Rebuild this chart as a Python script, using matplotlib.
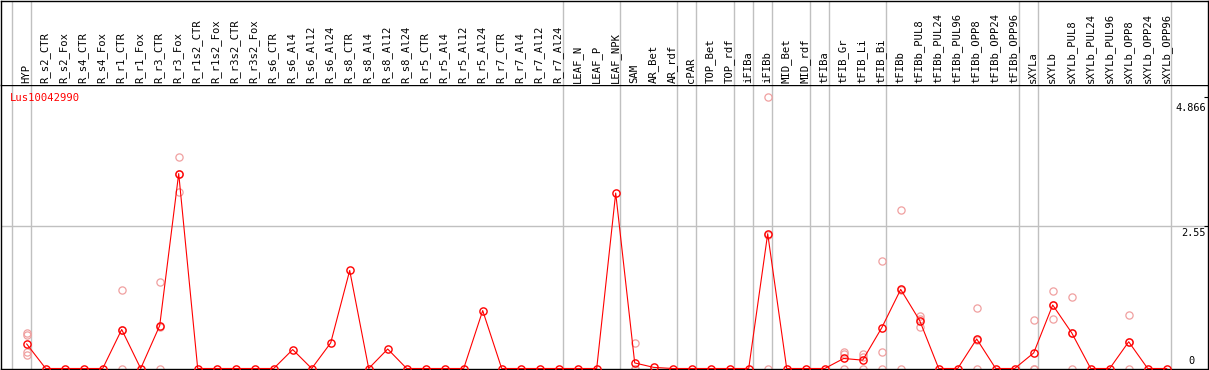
import numpy as np
import matplotlib
matplotlib.use("Agg")
import matplotlib.pyplot as plt

plt.rcParams['font.family'] = ['DejaVu Sans Mono', 'DejaVu Sans']

# Données
samples = [
    "HYP", "R_s2_CTR", "R_s2_Fox", "R_s4_CTR", "R_s4_Fox", "R_r1_CTR", "R_r1_Fox",
    "R_r3_CTR", "R_r3_Fox", "R_r1s2_CTR", "R_r1s2_Fox", "R_r3s2_CTR", "R_r3s2_Fox",
    "R_s6_CTR", "R_s6_Al4", "R_s6_Al12", "R_s6_Al24", "R_s8_CTR", "R_s8_Al4",
    "R_s8_Al12", "R_s8_Al24", "R_r5_CTR", "R_r5_Al4", "R_r5_Al12", "R_r5_Al24",
    "R_r7_CTR", "R_r7_Al4", "R_r7_Al12", "R_r7_Al24", "LEAF_N", "LEAF_P", "LEAF_NPK",
    "SAM", "AR_Bet", "AR_rdf", "cPAR", "TOP_Bet", "TOP_rdf", "iFIBa", "iFIBb",
    "MID_Bet", "MID_rdf", "tFIBa", "tFIB_Gr", "tFIB_Li", "tFIB_Bi", "tFIBb",
    "tFIBb_PUL8", "tFIBb_PUL24", "tFIBb_PUL96", "tFIBb_OPP8", "tFIBb_OPP24",
    "tFIBb_OPP96", "sXYLa", "sXYLb", "sXYLb_PUL8", "sXYLb_PUL24", "sXYLb_PUL96",
    "sXYLb_OPP8", "sXYLb_OPP24", "sXYLb_OPP96",
]

# moyenne (ligne rouge)
mean_vals = [
    0.44, 0, 0, 0, 0, 0.70, 0, 0.77, 3.50, 0, 0, 0, 0,
    0, 0.34, 0, 0.46, 1.76, 0, 0.35, 0, 0, 0, 0, 1.04,
    0, 0, 0, 0, 0, 0, 3.15,
    0.10, 0.02, 0, 0, 0, 0, 0, 2.42,
    0, 0, 0, 0.18, 0.15, 0.73, 1.42,
    0.86, 0, 0, 0.53, 0, 0,
    0.28, 1.14, 0.64, 0, 0, 0.48, 0, 0,
]

# réplicats visibles (points roses) : indice -> valeurs
replicates = {
    0: [0.63, 0.60, 0.29, 0.25],
    5: [1.41, 0.69, 0],
    7: [1.56, 0.75, 0],
    8: [3.80, 3.50, 3.17],
    32: [0.45, 0, 0],
    39: [4.866, 2.40, 0],
    43: [0.30, 0.26, 0],
    44: [0.26, 0.21, 0],
    45: [1.93, 0.30, 0],
    46: [2.85, 1.41, 0],
    47: [0.95, 0.75, 0.88],
    50: [1.09, 0.51, 0],
    53: [0.87, 0, 0],
    54: [1.39, 0.89, 1.14],
    55: [1.29, 0.63, 0],
    58: [0.96, 0.48, 0],
}

# tailles des groupes (séparateurs verticaux gris)
group_sizes = [1, 28, 3, 3, 1, 2, 1, 1, 2, 1, 3, 7, 1, 7]

y_ticks = [4.866, 2.55, 0]
gene = "Lus10042990"

W, H = 1209, 370
fig = plt.figure(figsize=(W / 100, H / 100), dpi=100)

x = np.arange(len(samples))
xlim = ((1 - 26.7) / 19, (1208 - 26.7) / 19)

ax = fig.add_axes([1 / W, 1.5 / H, 1207 / W, (369 - 85) / H])
hd = fig.add_axes([1 / W, (370 - 85) / H, 1207 / W, 84.5 / H], sharex=ax)

ax.set_xlim(*xlim)
ax.set_ylim(0, (369 - 85) / 55.7)

# séparateurs
bounds = [-1] + list(np.cumsum(group_sizes) - 1)
for b in bounds:
    for a in (ax, hd):
        a.axvline(b + 0.2, color='#c0c0c0', lw=1.0, zorder=0)
ax.axhline(2.55, color='#c0c0c0', lw=1.0, zorder=0)

# réplicats
for i, vals in replicates.items():
    ax.plot([i] * len(vals), vals, 'o', ms=5.2, mfc='none', mec='#f0a0a0',
            mew=0.9, clip_on=False, zorder=2)

ax.plot(x, mean_vals, '-', color='red', lw=0.8, zorder=3, clip_on=False)
ax.plot(x, mean_vals, 'o', ms=5.2, mfc='none', mec='red', mew=1.0,
        zorder=4, clip_on=False)

# étiquettes de droite
for v in y_ticks:
    if v == 0:
        ax.annotate("0", (xlim[1], v), xytext=(-20, 2), textcoords='offset pixels',
                    ha='left', va='bottom', fontsize=7.4, color='black')
    else:
        ax.annotate(f"{v:g}", (xlim[1], v), xytext=(-2, -2 if v < 4 else -6),
                    textcoords='offset pixels', ha='right', va='top',
                    fontsize=7.4, color='black')

ax.set_xticks([])
ax.set_yticks([2.55, 4.866])
ax.yaxis.tick_right()
ax.tick_params(axis='y', direction='in', length=3, labelright=False, color='black')
for s in ax.spines.values():
    s.set_color('black')
    s.set_linewidth(1.0)

hd.set_ylim(0, 1)
hd.set_yticks([])
hd.tick_params(axis='x', bottom=False, labelbottom=False)
hd.spines['bottom'].set_visible(False)
for s in ('top', 'left', 'right'):
    hd.spines[s].set_color('black')
    hd.spines[s].set_linewidth(1.0)

for i, name in enumerate(samples):
    hd.text(i - 0.03, 2 / 84.5, name, rotation=90, ha='center', va='bottom',
            fontsize=7.6, color='black')

fig.text(10 / W, 1 - 97.7 / H, gene, color='red', fontsize=7.6,
         ha='left', va='center')

fig.savefig("out.png", dpi=100)
